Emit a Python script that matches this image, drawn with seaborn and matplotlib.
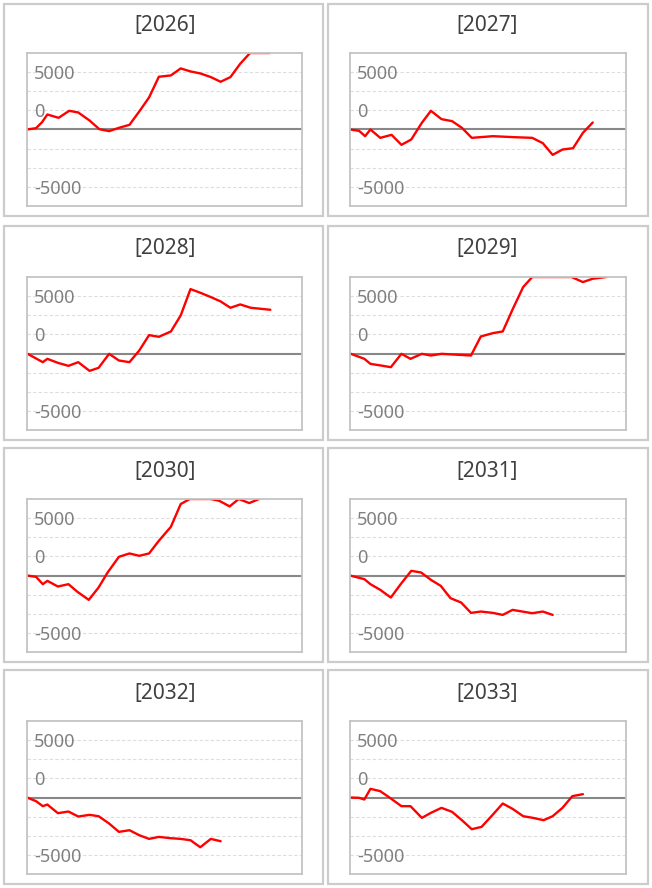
import numpy as np
import pandas as pd
import matplotlib
matplotlib.use("Agg")
import matplotlib.pyplot as plt
import matplotlib.transforms as mtransforms
from matplotlib.patches import Rectangle
import seaborn as sns

# cumulative values per year, x = day of year
years = ["2026", "2027", "2028", "2029", "2030", "2031", "2032", "2033"]

days_2026 = [0, 12, 20, 27, 42, 56, 68, 83, 96, 109, 122, 136, 149, 162, 175, 191, 204, 217, 230, 244, 257, 270, 283, 296, 309, 322]
vals_2026 = [0, 116, 640, 1309, 1018, 1629, 1484, 785, 29, -145, 145, 407, 1571, 2793, 4596, 4713, 5323, 5062, 4887, 4567, 4160, 4567, 5731, 6700, 7200, 7100]

days_2027 = [0, 12, 20, 27, 40, 55, 68, 81, 95, 107, 121, 135, 148, 161, 189, 217, 241, 255, 268, 281, 295, 308, 321]
vals_2027 = [0, -116, -582, 0, -727, -465, -1338, -873, 582, 1629, 902, 727, 145, -727, -582, -669, -727, -1193, -2211, -1745, -1629, -291, 611]

days_2028 = [0, 21, 27, 41, 55, 68, 83, 95, 109, 122, 136, 149, 162, 175, 191, 204, 217, 230, 244, 257, 270, 283, 297, 310, 323]
vals_2028 = [0, -756, -465, -814, -1076, -756, -1513, -1251, -29, -611, -756, 262, 1600, 1455, 1920, 3316, 5614, 5294, 4916, 4538, 3985, 4276, 3985, 3898, 3811]

days_2029 = [0, 19, 27, 41, 54, 68, 80, 95, 107, 121, 160, 173, 189, 202, 215, 229, 241, 255, 268, 281, 293, 308, 321, 339]
vals_2029 = [0, -465, -902, -1047, -1193, -29, -465, -29, -175, -29, -175, 1484, 1775, 1920, 3840, 5789, 6900, 7300, 7500, 7400, 6900, 6225, 6516, 6700]

days_2030 = [0, 12, 21, 27, 41, 55, 67, 82, 95, 107, 122, 136, 149, 162, 175, 191, 204, 216, 230, 244, 255, 269, 281, 295, 308]
vals_2030 = [0, -116, -756, -465, -960, -756, -1425, -2124, -1047, 262, 1629, 1920, 1716, 1920, 3025, 4247, 6225, 6900, 7200, 6800, 6516, 6022, 6700, 6313, 6700]

days_2031 = [0, 19, 27, 40, 54, 67, 81, 94, 107, 120, 133, 147, 160, 173, 189, 202, 215, 228, 241, 255, 268]
vals_2031 = [0, -320, -756, -1251, -1920, -756, 407, 262, -378, -902, -1978, -2356, -3258, -3142, -3258, -3433, -2996, -3142, -3287, -3142, -3433]

days_2032 = [0, 12, 21, 27, 41, 55, 68, 83, 95, 109, 122, 136, 149, 162, 175, 191, 204, 217, 230, 244, 257]
vals_2032 = [0, -320, -756, -611, -1367, -1222, -1658, -1513, -1629, -2269, -2996, -2851, -3287, -3607, -3433, -3549, -3607, -3724, -4334, -3607, -3811]

days_2033 = [0, 12, 19, 27, 40, 54, 68, 80, 95, 107, 121, 135, 148, 161, 174, 189, 202, 215, 229, 242, 256, 268, 281, 294, 308]
vals_2033 = [0, -29, -175, 756, 553, -87, -756, -756, -1775, -1338, -902, -1251, -1978, -2764, -2560, -1484, -524, -989, -1629, -1775, -1978, -1629, -902, 116, 291]

series = {
    "2026": (days_2026, vals_2026), "2027": (days_2027, vals_2027),
    "2028": (days_2028, vals_2028), "2029": (days_2029, vals_2029),
    "2030": (days_2030, vals_2030), "2031": (days_2031, vals_2031),
    "2032": (days_2032, vals_2032), "2033": (days_2033, vals_2033),
}

grid_vals = [-5000, -3333.3, -1666.7, 1666.7, 3333.3, 5000]
label_vals = [5000, 1666.7, -5000]
label_text = ["5000", "0", "-5000"]
y_lim = (-6667, 6667)
x_lim = (0, 365)

sns.set_style("white")
plt.rcParams["font.family"] = ["Noto Sans", "DejaVu Sans"]

W, H = 652, 888
fig = plt.figure(figsize=(W / 100, H / 100), dpi=100)

col_x = [(27, 275), (350, 276)]
row_y = [53, 277, 499, 721]
box_x = [(4, 319), (328, 320)]
box_y = [(4, 212), (226, 214), (448, 214), (670, 214)]
title_y = [25, 248, 471, 693]
title_x = [165, 487]

for i, year in enumerate(years):
    r, c = divmod(i, 2)
    # outer panel frame
    bx, bw = box_x[c]
    by, bh = box_y[r]
    fig.patches.append(Rectangle((bx / W, 1 - (by + bh) / H), bw / W, bh / H,
                                 transform=fig.transFigure, fill=False,
                                 edgecolor="#cccccc", linewidth=1.6))
    fig.text(title_x[c] / W, 1 - title_y[r] / H, f"[{year}]", ha="center", va="center",
             fontsize=15, color="#404040")

    left, width = col_x[c]
    ax = fig.add_axes([left / W, 1 - (row_y[r] + 153) / H, width / W, 153 / H])
    d, v = series[year]
    df = pd.DataFrame({"day": d, "value": np.clip(v, y_lim[0], y_lim[1])})
    sns.lineplot(data=df, x="day", y="value", ax=ax, color="#ff0000", linewidth=1.7,
                 zorder=3)
    ax.set_xlim(*x_lim)
    ax.set_ylim(*y_lim)
    ax.set_xlabel("")
    ax.set_ylabel("")
    ax.set_xticks([])
    ax.set_yticks(grid_vals, labels=[""] * len(grid_vals))
    ax.tick_params(axis="y", length=0)
    ax.grid(axis="y", linestyle=(0, (3, 2)), color="#dddddd", linewidth=0.8)
    ax.axhline(0, color="#888888", linewidth=1.5, zorder=2)

    # value labels sit inside the plot, slightly below their gridline
    trans = ax.get_yaxis_transform() + mtransforms.ScaledTranslation(7 / 100, -2 / 100, fig.dpi_scale_trans)
    for yv, txt in zip(label_vals, label_text):
        ax.text(0, yv, txt, transform=trans, ha="left", va="center",
                fontsize=13, color="#808080", zorder=2.5)

    for s in ax.spines.values():
        s.set_color("#c4c4c4")
        s.set_linewidth(1.3)
        s.set_zorder(4)

fig.savefig("out.png", dpi=100, facecolor="white")
